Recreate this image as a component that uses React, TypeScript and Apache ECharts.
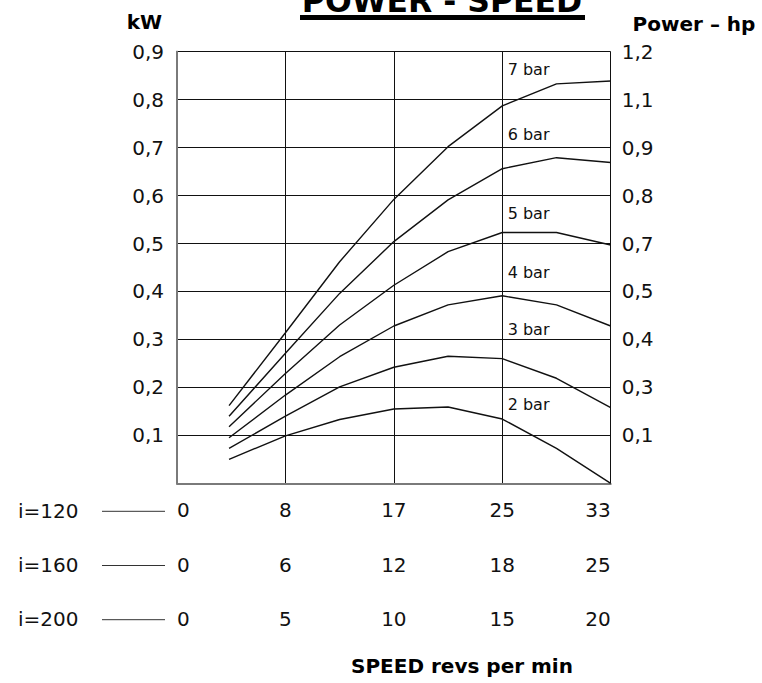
import React, { useEffect, useRef } from "react";
import * as echarts from "echarts";

// Speed positions (grid columns): 0..4 correspond to the labelled speed steps
const speedSteps = [0.48, 1, 1.5, 2, 2.5, 3, 3.5, 4];

// Power in kW for each supply pressure
const bar2 = [0.05, 0.099, 0.133, 0.155, 0.159, 0.134, 0.073, 0.0];
const bar3 = [0.073, 0.14, 0.201, 0.242, 0.265, 0.26, 0.219, 0.158];
const bar4 = [0.095, 0.184, 0.264, 0.328, 0.372, 0.391, 0.372, 0.328];
const bar5 = [0.118, 0.229, 0.33, 0.413, 0.483, 0.523, 0.523, 0.497];
const bar6 = [0.14, 0.271, 0.396, 0.504, 0.591, 0.656, 0.679, 0.669];
const bar7 = [0.162, 0.314, 0.462, 0.592, 0.702, 0.787, 0.833, 0.839];

const seriesNames = ["2 bar", "3 bar", "4 bar", "5 bar", "6 bar", "7 bar"];
const seriesValues = [bar2, bar3, bar4, bar5, bar6, bar7];
// vertical anchor (kW) of each curve's name label
const nameLabelKw = [0.164, 0.32, 0.44, 0.563, 0.728, 0.862];
const nameLabelStep = 3.05;

// tick labels
const kwLabels = ["", "0,1", "0,2", "0,3", "0,4", "0,5", "0,6", "0,7", "0,8", "0,9"];
const hpLabels = ["", "0,1", "0,3", "0,4", "0,5", "0,7", "0,8", "0,9", "1,1", "1,2"];
const ratios = ["i=120", "i=160", "i=200"];
const speedRow120 = ["0", "8", "17", "25", "33"];
const speedRow160 = ["0", "6", "12", "18", "25"];
const speedRow200 = ["0", "5", "10", "15", "20"];

const FONT = "DejaVu Sans";
const INK = "#111";
const FRAME = "#7a7a7a";

export default function App() {
  const ref = useRef<HTMLDivElement>(null);
  useEffect(() => {
    if (!ref.current) return;
    const chart = echarts.init(ref.current, null, { renderer: "svg" });
    const idx = (v: number, step: number) => Math.round(v / step);

    const makeX = (labels: string[], offset: number, main: boolean) => ({
      type: "value",
      min: 0,
      max: 4,
      interval: 1,
      position: "bottom",
      offset,
      axisLine: { show: main, lineStyle: { color: FRAME, width: 2 } },
      axisTick: { show: false },
      splitLine: { show: main, lineStyle: { color: INK, width: 1 } },
      axisLabel: {
        formatter: (v: number) => labels[idx(v, 1)] ?? "",
        fontFamily: FONT,
        fontSize: 20,
        color: INK,
        margin: 17,
        alignMinLabel: "left",
        alignMaxLabel: "right",
      },
    });

    const rowLabelGraphics: any[] = [];
    ratios.forEach((r, i) => {
      const cy = 510.5 + i * 54.2;
      rowLabelGraphics.push({
        type: "text",
        x: 18,
        y: cy,
        style: { text: r, font: `20px '${FONT}'`, fill: INK, textAlign: "left", textVerticalAlign: "middle" },
      });
      rowLabelGraphics.push({
        type: "line",
        shape: { x1: 102, y1: cy + 0.8, x2: 165, y2: cy + 0.8 },
        style: { stroke: "#333", lineWidth: 1 },
      });
    });

    chart.setOption({
      animation: false,
      backgroundColor: "#fff",
      grid: { left: 177, right: 151.3, top: 51.7, bottom: 199.7, containLabel: false },
      xAxis: [
        makeX(speedRow120, 0, true),
        makeX(speedRow160, 54.2, false),
        makeX(speedRow200, 108.5, false),
      ],
      yAxis: [
        {
          type: "value",
          min: 0,
          max: 0.9,
          interval: 0.1,
          position: "left",
          axisLine: { show: true, lineStyle: { color: FRAME, width: 2 } },
          axisTick: { show: false },
          splitLine: { show: true, lineStyle: { color: INK, width: 1 } },
          axisLabel: {
            formatter: (v: number) => kwLabels[idx(v, 0.1)] ?? "",
            fontFamily: FONT,
            fontSize: 20,
            color: INK,
            margin: 13,
            padding: [8, 0, 0, 0],
          },
        },
        {
          type: "value",
          min: 0,
          max: 0.9,
          interval: 0.1,
          position: "right",
          axisLine: { show: true, lineStyle: { color: FRAME, width: 2 } },
          axisTick: { show: false },
          splitLine: { show: false },
          axisLabel: {
            formatter: (v: number) => hpLabels[idx(v, 0.1)] ?? "",
            fontFamily: FONT,
            fontSize: 20,
            color: INK,
            margin: 11,
          },
        },
      ],
      series: seriesValues.map((vals, i) => ({
        name: seriesNames[i],
        type: "line",
        xAxisIndex: 0,
        yAxisIndex: 0,
        symbol: "none",
        smooth: false,
        lineStyle: { color: INK, width: 1.4 },
        data: vals.map((v, j) => [speedSteps[j], v]),
        markPoint: {
          silent: true,
          symbol: "circle",
          symbolSize: 0,
          data: [
            {
              coord: [nameLabelStep, nameLabelKw[i]],
              label: {
                show: true,
                position: "right",
                distance: 0,
                formatter: seriesNames[i],
                fontFamily: FONT,
                fontSize: 16,
                color: INK,
              },
            },
          ],
        },
      })),
      graphic: [
        {
          type: "text",
          x: 442,
          y: 0.5,
          style: { text: "POWER - SPEED", font: `bold 31.5px '${FONT}'`, fill: "#000", textAlign: "center", textVerticalAlign: "middle" },
        },
        { type: "rect", shape: { x: 300, y: 15, width: 285, height: 5 }, style: { fill: "#000" } },
        {
          type: "text",
          x: 144.5,
          y: 22,
          style: { text: "kW", font: `bold 20px '${FONT}'`, fill: "#000", textAlign: "center", textVerticalAlign: "middle" },
        },
        {
          type: "text",
          x: 694,
          y: 23.5,
          style: { text: "Power – hp", font: `bold 20px '${FONT}'`, fill: "#000", textAlign: "center", textVerticalAlign: "middle" },
        },
        {
          type: "text",
          x: 462,
          y: 665.5,
          style: { text: "SPEED revs per min", font: `bold 20px '${FONT}'`, fill: "#000", textAlign: "center", textVerticalAlign: "middle" },
        },
        ...rowLabelGraphics,
      ],
    });
    return () => chart.dispose();
  }, []);
  return (
    <div
      ref={ref}
      style={{ position: "fixed", left: 0, top: 0, width: 762, height: 683, background: "#fff" }}
    />
  );
}
